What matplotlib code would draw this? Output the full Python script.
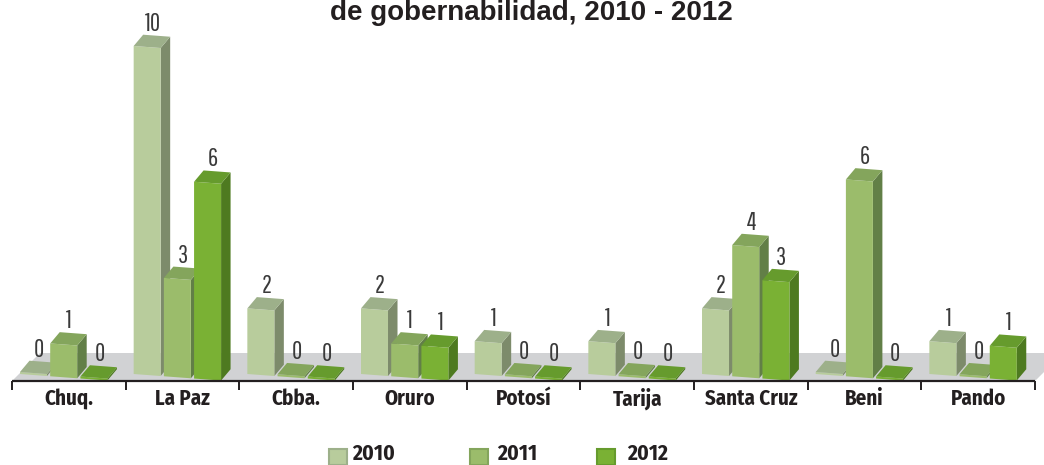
import matplotlib
matplotlib.use("Agg")
import matplotlib.pyplot as plt
from matplotlib.patches import Polygon, Rectangle

categories = ["Chuq.", "La Paz", "Cbba.", "Oruro", "Potosí", "Tarija", "Santa Cruz", "Beni", "Pando"]
years = ["2010", "2011", "2012"]
v2010 = [0, 10, 2, 2, 1, 1, 2, 0, 1]
v2011 = [1, 3, 0, 1, 0, 0, 4, 6, 0]
v2012 = [0, 6, 0, 1, 0, 0, 3, 0, 1]
series = [v2010, v2011, v2012]
title_line = "de gobernabilidad, 2010 - 2012"

# front, side, top for each year
colors = [("#B8CC9C", "#7D8B6B", "#9DB08A"),
          ("#9BBC6B", "#627F47", "#84A55C"),
          ("#7AB134", "#4E7A20", "#669B2D")]

W, H = 1044, 465
CAT_PX = 113.67   # one category in pixels
UNIT_PX = 32.8    # one unit of value in pixels
X0_PX, Y0_PX = 12, 374

LABEL_FONT = ["Fira Sans Condensed", "Liberation Sans"]
VALUE_FONT = ["Pathway Gothic One", "Liberation Sans"]


def px_x(p):
    return p / CAT_PX


def px_y(p):
    return p / UNIT_PX


def draw_bar(ax, cat, i, val, cols):
    front, side, top = cols
    bw = px_x(27)
    dx, dy = px_x(9.5), px_y(11.3)
    x0 = cat + px_x(8 + 30.2 * i)
    # the picture is slightly in perspective, bars drop towards the right
    skew = px_y(0.075) / px_x(1)
    b0 = -(x0 - cat - px_x(8)) * skew
    b1 = b0 - bw * skew
    z = 3 + i
    lip = max(val, px_y(2))
    ax.add_patch(Polygon([(x0 + bw, b1), (x0 + bw + dx, b1 + dy), (x0 + bw + dx, b1 + dy + lip),
                          (x0 + bw, b1 + lip)], fc=side, ec="none", zorder=z))
    ax.add_patch(Polygon([(x0, b0), (x0 + bw, b1), (x0 + bw, b1 + lip), (x0, b0 + lip)],
                         fc=front, ec="none", zorder=z + 0.1))
    ax.add_patch(Polygon([(x0, b0 + lip), (x0 + bw, b1 + lip), (x0 + bw + dx, b1 + lip + dy),
                          (x0 + dx, b0 + lip + dy)], fc=top, ec="none", zorder=z + 0.2))
    ax.text(x0 + bw / 2 + px_x(5.5), b0 + lip + dy + px_y(4), str(val), ha="center", va="baseline",
            fontsize=18, family=VALUE_FONT, color="#3a3a3a", zorder=6)


def main():
    fig = plt.figure(figsize=(W / 100, H / 100), dpi=100)
    ax = fig.add_axes([0, 0, 1, 1])
    ax.set_xlim(px_x(-X0_PX), px_x(W - X0_PX))
    ax.set_ylim(px_y(Y0_PX - H), px_y(Y0_PX))
    ax.axis("off")

    n = len(categories)
    axis_y = px_y(-7)

    # grey floor
    ax.add_patch(Polygon([(0, axis_y), (n, axis_y), (n + px_x(28), px_y(21)), (px_x(28), px_y(21))],
                         fc="#D1D2D4", ec="none", zorder=1))

    for i, vals in enumerate(series):
        for cat, v in enumerate(vals):
            draw_bar(ax, cat, i, v, colors[i])

    # axis line and ticks
    ax.plot([0, n], [axis_y, axis_y], color="#231F20", lw=1.6, zorder=7, solid_capstyle="butt")
    for k in range(n + 1):
        ax.plot([k, k], [axis_y, axis_y - px_y(9)], color="#231F20", lw=1.4, zorder=7, solid_capstyle="butt")
    for k, c in enumerate(categories):
        ax.text(k + 0.5, px_y(-25), c, ha="center", va="center", fontsize=15, weight="bold",
                family=LABEL_FONT, color="#231F20")

    fig.text(531 / W, 1 - 20 / H, title_line, ha="center", va="baseline", fontsize=20, weight="bold",
             family="Liberation Sans", color="#231F20")

    # legend
    for x_sq, x_txt, y, c in zip([329, 470, 597], [352, 497, 627], years, colors):
        fig.add_artist(Rectangle((x_sq / W, 1 - 465 / H), 18 / W, 16 / H, transform=fig.transFigure,
                                 fc=c[0], ec=c[2], lw=1.5))
        fig.text(x_txt / W, 1 - 454 / H, y, ha="left", va="center", fontsize=15.5, weight="bold",
                 family=LABEL_FONT, color="#231F20")

    fig.savefig("out.png", dpi=100)


if __name__ == "__main__":
    main()
